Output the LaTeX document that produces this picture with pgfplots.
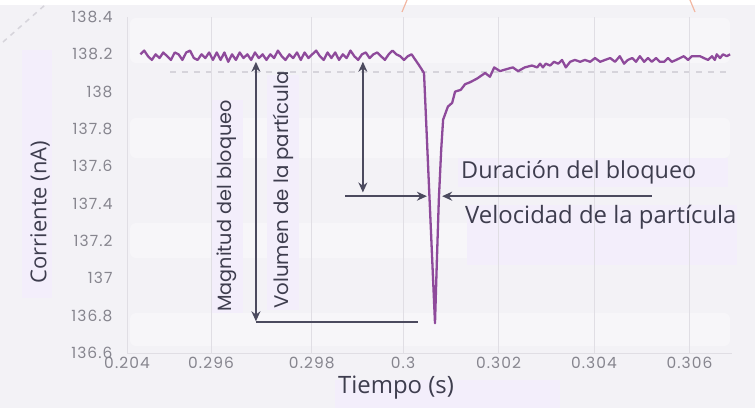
\documentclass[border=0pt]{standalone}
\usepackage{fontspec}
\setmainfont{Open Sans}
\newfontfamily\pop{Poppins}
\newfontfamily\popw{Poppins}[LetterSpace=7]
\usepackage{pgfplots}
\pgfplotsset{compat=1.18}
\usetikzlibrary{arrows.meta}
\definecolor{bg}{HTML}{F3F2F6}
\definecolor{band}{HTML}{F7F6F9}
\definecolor{lav}{HTML}{F3EEFB}
\definecolor{gridc}{HTML}{E0DEE4}
\definecolor{tickc}{HTML}{86858E}
\definecolor{txt}{HTML}{3E3D4E}
\definecolor{arrc}{HTML}{4B4A5E}
\definecolor{sig}{HTML}{8E4A9B}
\definecolor{dashc}{HTML}{D6D4DB}
\definecolor{salmon}{HTML}{F2B7A2}
\begin{document}
\begin{tikzpicture}[x=1bp,y=1bp]
\useasboundingbox (0,0) rectangle (755,408);
\fill[bg] (0,0) rectangle (755,408);
\fill[white] (0,403) rectangle (755,408);
% faint bands
\fill[band, rounded corners=6] (130,345) rectangle (730,390);
\fill[band, rounded corners=6] (130,250) rectangle (730,290);
\fill[band, rounded corners=6] (130,150) rectangle (730,185);
\fill[band, rounded corners=6] (130,62) rectangle (730,95);
% lavender boxes
\fill[lav] (22,110) rectangle (52,358);
\fill[lav] (211,95) rectangle (243,308);
\fill[lav] (267,98) rectangle (299,333);
\fill[lav] (458,221) rectangle (728,250);
\fill[lav] (467,143) rectangle (737,203);
\fill[lav] (335,0) rectangle (560,28);
% decorations
\draw[dashc, line width=1.5, dash pattern=on 5 off 5] (3,366) -- (45,403);
\draw[salmon, line width=1.2] (407,408) -- (402,396);
\draw[salmon, line width=1.2] (690,408) -- (695,396);
\draw[dashc, line width=1.5, dash pattern=on 6 off 6] (170,336) -- (730,336);
\begin{axis}[
  at={(127bp,55bp)}, anchor=south west,
  scale only axis, width=605bp, height=336bp,
  xmin=0.29422, xmax=0.30689, ymin=136.6, ymax=138.4,
  clip=false,
  axis line style={draw=none},
  major tick length=0pt,
  xtick={0.29422,0.29598,0.29809,0.3,0.302,0.304,0.306},
  xticklabels={0.204,0.296,0.298,0.3,0.302,0.304,0.306},
  ytick={136.6,136.8,137,137.2,137.4,137.6,137.8,138,138.2,138.4},
  yticklabels={136.6,136.8,137,137.2,137.4,137.6,137.8,138,138.2,138.4},
  xmajorgrids, grid style={gridc, line width=1bp},
  xticklabel style={font=\popw\fontsize{15.5}{15.5}\selectfont, text=tickc, yshift=-1bp},
  yticklabel style={font=\popw\fontsize{15.5}{15.5}\selectfont, text=tickc, xshift=-11bp},
  scaled x ticks=false, scaled y ticks=false,
]
\draw[gridc, line width=1bp] (rel axis cs:0,0) -- (rel axis cs:1,0);
\addplot[sig, line width=2.3bp, line join=round, no markers] coordinates {
(0.29450,138.20) (0.29458,138.22) (0.29466,138.19) (0.29474,138.17) (0.29482,138.20)
(0.29490,138.18) (0.29498,138.21) (0.29506,138.19) (0.29514,138.17) (0.29522,138.21)
(0.29530,138.20) (0.29538,138.17) (0.29546,138.21) (0.29554,138.22) (0.29562,138.18)
(0.29570,138.17) (0.29578,138.20) (0.29586,138.18) (0.29594,138.21) (0.29602,138.17)
(0.29610,138.21) (0.29618,138.17) (0.29626,138.21) (0.29634,138.16) (0.29642,138.20)
(0.29650,138.17) (0.29658,138.21) (0.29666,138.18) (0.29674,138.20) (0.29682,138.17)
(0.29690,138.21) (0.29698,138.18) (0.29706,138.20) (0.29714,138.17) (0.29722,138.20)
(0.29730,138.18) (0.29738,138.22) (0.29746,138.19) (0.29754,138.17) (0.29762,138.20)
(0.29770,138.18) (0.29778,138.21) (0.29786,138.17) (0.29794,138.21) (0.29802,138.18)
(0.29810,138.20) (0.29818,138.22) (0.29826,138.19) (0.29834,138.17) (0.29842,138.21)
(0.29850,138.18) (0.29858,138.21) (0.29866,138.17) (0.29874,138.20) (0.29882,138.18)
(0.29890,138.22) (0.29898,138.19) (0.29906,138.17) (0.29914,138.20) (0.29922,138.21)
(0.29930,138.18) (0.29938,138.20) (0.29946,138.21) (0.29954,138.19) (0.29962,138.17)
(0.29970,138.20) (0.29978,138.22) (0.29986,138.20) (0.29994,138.19) (0.30002,138.17)
(0.30010,138.19) (0.30018,138.20) (0.30026,138.17) (0.30034,138.14) (0.30044,138.10)
(0.30067,136.76)
(0.30071,137.10) (0.30075,137.42) (0.30080,137.69) (0.30084,137.85) (0.30094,137.92)
(0.30103,137.94) (0.30109,138.00) (0.30121,138.01) (0.30130,138.04) (0.30140,138.05)
(0.30155,138.07) (0.30172,138.10) (0.30182,138.08) (0.30191,138.13) (0.30203,138.11)
(0.30216,138.12) (0.30230,138.13) (0.30241,138.11) (0.30255,138.13) (0.30270,138.14)
(0.30281,138.13) (0.30287,138.15) (0.30293,138.13) (0.30299,138.15) (0.30308,138.14)
(0.30316,138.16) (0.30325,138.15) (0.30333,138.17) (0.30341,138.13) (0.30350,138.16)
(0.30360,138.17) (0.30371,138.16) (0.30381,138.17) (0.30392,138.16) (0.30402,138.18)
(0.30413,138.16) (0.30423,138.17) (0.30434,138.18) (0.30444,138.16) (0.30454,138.19)
(0.30463,138.15) (0.30471,138.17) (0.30480,138.18) (0.30488,138.16) (0.30496,138.19)
(0.30505,138.16) (0.30513,138.18) (0.30521,138.16) (0.30530,138.18) (0.30538,138.16)
(0.30547,138.16) (0.30555,138.18) (0.30563,138.16) (0.30572,138.17) (0.30580,138.18)
(0.30588,138.19) (0.30597,138.17) (0.30605,138.19) (0.30614,138.19) (0.30622,138.19)
(0.30630,138.18) (0.30639,138.17) (0.30647,138.19) (0.30653,138.17) (0.30657,138.20)
(0.30664,138.18) (0.30670,138.20) (0.30678,138.19) (0.30685,138.20)
};
\draw[arrc, line width=1.5bp, {Stealth[length=10bp,width=9bp]}-{Stealth[length=10bp,width=9bp]}]
  (axis cs:0.29692,138.16) -- (axis cs:0.29692,136.77);
\draw[arrc, line width=1.5bp] (axis cs:0.29692,136.765) -- (axis cs:0.30031,136.765);
\draw[arrc, line width=1.5bp, {Stealth[length=10bp,width=9bp]}-{Stealth[length=10bp,width=9bp]}]
  (axis cs:0.29916,138.16) -- (axis cs:0.29916,137.46);
\draw[arrc, line width=1.5bp, -{Stealth[length=10bp,width=9bp]}]
  (axis cs:0.29879,137.44) -- (axis cs:0.30050,137.44);
\draw[arrc, line width=1.5bp, -{Stealth[length=10bp,width=9bp]}]
  (axis cs:0.30521,137.44) -- (axis cs:0.30082,137.44);
\end{axis}
\node[anchor=west, text=txt, font=\fontsize{23.5}{23.5}\selectfont, inner sep=0] at (461,236) {Duración del bloqueo};
\node[anchor=west, text=txt, font=\fontsize{24}{24}\selectfont, inner sep=0] at (465,191) {Velocidad de la partícula};
\node[rotate=90, text=txt, font=\pop\fontsize{19.3}{19.3}\selectfont, inner sep=0] at (227,202) {Magnitud del bloqueo};
\node[rotate=90, text=txt, font=\pop\fontsize{19.8}{19.8}\selectfont, inner sep=0] at (283,218) {Volumen de la partícula};
\node[rotate=90, text=txt, font=\fontsize{22}{22}\selectfont, inner sep=0] at (40,196) {Corriente (nA)};
\node[text=txt, font=\fontsize{24}{24}\selectfont, inner sep=0] at (396,20) {Tiempo (s)};
\end{tikzpicture}
\end{document}
